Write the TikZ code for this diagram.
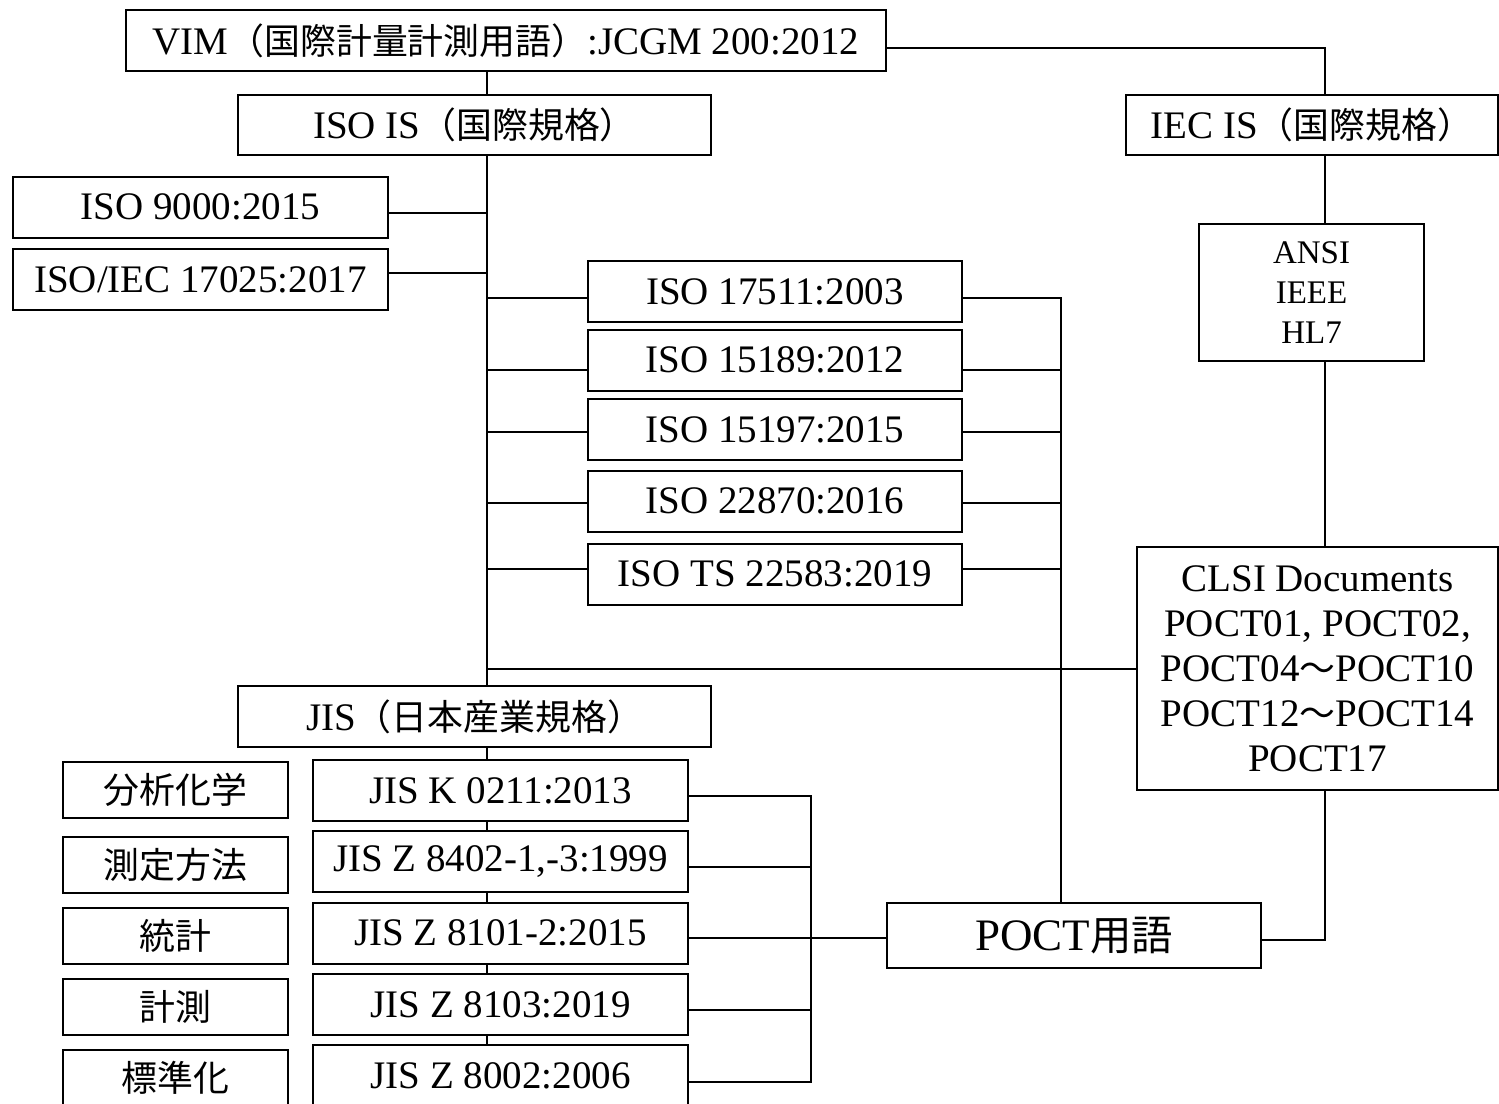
\documentclass[tikz,border=0pt]{standalone}
\usepackage{fontspec}
\setmainfont{Liberation Serif}
\newfontfamily\jp{Noto Sans CJK JP}[Scale=0.92]
\begin{document}
\begin{tikzpicture}[x=0.5pt,y=-0.5pt,
  box/.style={draw=black,line width=1pt,inner sep=0pt,fill=white,align=center,
    font=\fontsize{19.5}{22.5}\selectfont},
  std/.style={box,minimum width=187.5pt,minimum height=30.5pt},
  lbl/.style={box,minimum width=112.5pt,minimum height=28pt},
  conn/.style={line width=1pt,line cap=rect}]
\useasboundingbox (0,0) rectangle (1499,1103);
\clip (0,0) rectangle (1499,1103);
% helper coordinates
\coordinate (tx) at (487,0);
\coordinate (rx) at (1061,0);
\coordinate (ix) at (1325,0);
\coordinate (jx) at (811,0);
% top
\node[box,minimum width=380pt,minimum height=30.5pt] (vim) at (506,40.5) {VIM{\jp（国際計量計測用語）}:JCGM 200:2012};
\node[box,minimum width=236.5pt,minimum height=30pt] (isois) at (474.5,125) {ISO IS{\jp（国際規格）}};
\node[box,minimum width=186pt,minimum height=30pt] (iecis) at (1312,125) {IEC IS{\jp（国際規格）}};
% ISO list left
\node[std] (iso9000) at (200.5,207) {ISO 9000:2015};
\node[std] (iso17025) at (200.5,279.5) {ISO/IEC 17025:2017};
% ISO list middle
\node[std,minimum width=187pt] (iso17511) at (775,291.5) {ISO 17511:2003};
\node[std,minimum width=187pt] (iso15189) at (775,360) {ISO 15189:2012};
\node[std,minimum width=187pt] (iso15197) at (775,429.5) {ISO 15197:2015};
\node[std,minimum width=187pt] (iso22870) at (775,501) {ISO 22870:2016};
\node[std,minimum width=187pt] (isots) at (775,574) {ISO TS 22583:2019};
% right column
\node[box,minimum width=112.5pt,minimum height=68.5pt,font=\fontsize{16.5}{20}\selectfont] (ansi) at (1311.5,292.5) {ANSI\\IEEE\\HL7};
\node[box,minimum width=180.5pt,minimum height=121.5pt] (clsi) at (1317.5,668.5) {CLSI Documents\\POCT01, POCT02,\\POCT04{\jp ～}POCT10\\POCT12{\jp ～}POCT14\\POCT17};
% JIS
\node[box,minimum width=236.5pt,minimum height=30.5pt] (jis) at (474.5,716.5) {JIS{\jp（日本産業規格）}};
\node[lbl] (l1) at (175.5,790) {\jp 分析化学};
\node[lbl] (l2) at (175.5,864.5) {\jp 測定方法};
\node[lbl] (l3) at (175.5,936) {\jp 統計};
\node[lbl] (l4) at (175.5,1007) {\jp 計測};
\node[lbl] (l5) at (175.5,1078) {\jp 標準化};
\node[std] (j1) at (500.5,790.5) {JIS K 0211:2013};
\node[std] (j2) at (500.5,861.5) {JIS Z 8402-1,-3:1999};
\node[std] (j3) at (500.5,933) {JIS Z 8101-2:2015};
\node[std] (j4) at (500.5,1004.5) {JIS Z 8103:2019};
\node[std] (j5) at (500.5,1075.5) {JIS Z 8002:2006};
% POCT
\node[box,minimum width=187pt,minimum height=32.5pt,font=\fontsize{22.5}{26}\selectfont] (poct) at (1074,935.5) {POCT{\jp 用語}};
% connectors
\draw[conn] (vim.south -| tx) -- (isois.north -| tx);
\draw[conn] (isois.south -| tx) -- (jis.north -| tx);
\draw[conn] ([yshift=-3pt]iso9000.east) -- ([yshift=-3pt]iso9000.east -| tx);
\draw[conn] ([yshift=3.25pt]iso17025.east) -- ([yshift=3.25pt]iso17025.east -| tx);
\foreach \n/\s in {iso17511/-3pt,iso15189/-5pt,iso15197/-1pt,iso22870/-1pt,isots/2.5pt}{
  \draw[conn] ([yshift=\s]tx |- \n.west) -- ([yshift=\s]\n.west);
  \draw[conn] ([yshift=\s]\n.east) -- ([yshift=\s]\n.east -| rx);
}
\draw[conn] ([yshift=-3pt]iso17511.east -| rx) -- (poct.north -| rx);
\draw[conn] (tx |- clsi.west) -- (clsi.west);
\draw[conn] ([yshift=-3.5pt]vim.east) -- ([yshift=-3.5pt]vim.east -| ix) -- (iecis.north -| ix);
\draw[conn] (iecis.south -| ix) -- (ansi.north -| ix);
\draw[conn] (ansi.south -| ix) -- (clsi.north -| ix);
\draw[conn] (clsi.south -| ix) -- ([yshift=-2pt]ix |- poct.east) -- ([yshift=-2pt]poct.east);
\draw[conn] (jis.south -| tx) -- (j1.north -| tx);
\draw[conn] (j1.south -| tx) -- (j2.north -| tx);
\draw[conn] (j2.south -| tx) -- (j3.north -| tx);
\draw[conn] (j3.south -| tx) -- (j4.north -| tx);
\draw[conn] (j4.south -| tx) -- (j5.north -| tx);
\draw[conn] ([yshift=-2.5pt]j1.east) -- ([yshift=-2.5pt]j1.east -| jx) -- ([yshift=-3pt]j5.east -| jx) -- ([yshift=-3pt]j5.east);
\draw[conn] ([yshift=-2.5pt]j2.east) -- ([yshift=-2.5pt]j2.east -| jx);
\draw[conn] ([yshift=-2.5pt]j3.east) -- ([yshift=-2.5pt]poct.west |- j3.east);
\draw[conn] ([yshift=-2.75pt]j4.east) -- ([yshift=-2.75pt]j4.east -| jx);
\end{tikzpicture}
\end{document}
